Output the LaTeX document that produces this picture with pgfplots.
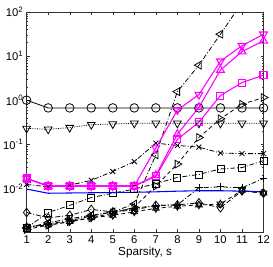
\documentclass[border=0pt]{standalone}
\usepackage{fontspec}
\setmainfont{Liberation Sans}
\usepackage{pgfplots}
\pgfplotsset{compat=1.18}
\definecolor{mag}{RGB}{255,0,255}
\begin{document}
\begin{tikzpicture}
\begin{axis}[
  scale only axis, width=243pt, height=226pt,
  xmin=1, xmax=12, ymode=log, ymin=1.05e-3, ymax=100,
  xtick={1,...,12},
  ytick={1e-2,1e-1,1,10,100},
  yticklabels={10\textsuperscript{-2},10\textsuperscript{-1},10\textsuperscript{0},10\textsuperscript{1},10\textsuperscript{2}},
  /pgf/number format/assume math mode=true,
  tick label style={font=\fontsize{11.5}{12}\selectfont},
  xlabel={Sparsity, s},
  xlabel style={font=\fontsize{12}{13}\selectfont, yshift=3pt},
  tick align=inside, axis line style={black!80},
  major tick length=3pt, minor tick length=1.8pt,
  every tick/.style={black!80},
  clip=true,
  every axis plot/.append style={line width=0.8pt, mark size=4.6pt},
]
% black circles solid
\addplot[black, mark=o, mark size=4.4pt] coordinates {(1,1.0)(2,0.67)(3,0.67)(4,0.67)(5,0.67)(6,0.67)(7,0.67)(8,0.67)(9,0.67)(10,0.67)(11,0.67)(12,0.67)};
% black dotted triangle down
\addplot[black, densely dotted, mark=triangle, mark options={solid, rotate=180}] coordinates {(1,0.23)(2,0.22)(3,0.24)(4,0.28)(5,0.29)(6,0.30)(7,0.30)(8,0.30)(9,0.30)(10,0.30)(11,0.30)(12,0.30)};
% black dash-dot triangle left
\addplot[black, dash pattern=on 5pt off 2pt on 1pt off 2pt, mark=triangle, mark options={solid, rotate=90}] coordinates {(1,0.0013)(2,0.0017)(3,0.0021)(4,0.0025)(5,0.0030)(6,0.0045)(7,0.058)(8,1.56)(9,6.2)(10,31)(11,160)(12,800)};
% black dashed triangle right
\addplot[black, dash pattern=on 4pt off 3pt, mark=triangle, mark options={solid, rotate=270}] coordinates {(1,0.0012)(2,0.0015)(3,0.0018)(4,0.0022)(5,0.0028)(6,0.0038)(7,0.0115)(8,0.036)(9,0.144)(10,0.38)(11,0.81)(12,1.15)};
% black x dash-dot
\addplot[black, dash pattern=on 5pt off 2pt on 1pt off 2pt, mark=x, mark size=3.6pt, mark options={solid}] coordinates {(1,0.0125)(2,0.011)(3,0.012)(4,0.0155)(5,0.0245)(6,0.041)(7,0.107)(8,0.095)(9,0.087)(10,0.064)(11,0.062)(12,0.062)};
% black squares dash-dot
\addplot[black, dash pattern=on 5pt off 2pt on 1pt off 2pt, mark=square, mark size=3.6pt, mark options={solid}] coordinates {(1,0.0013)(2,0.0029)(3,0.0042)(4,0.0063)(5,0.0079)(6,0.0098)(7,0.013)(8,0.018)(9,0.021)(10,0.028)(11,0.030)(12,0.043)};
% black plus dash-dot
\addplot[black, dash pattern=on 5pt off 2pt on 1pt off 2pt, mark=+, mark size=4pt, mark options={solid}] coordinates {(1,0.0013)(2,0.0016)(3,0.0019)(4,0.0024)(5,0.0030)(6,0.0036)(7,0.0042)(8,0.0043)(9,0.0105)(10,0.011)(11,0.0105)(12,0.017)};
% black diamonds dash-dot
\addplot[black, dash pattern=on 5pt off 2pt on 1pt off 2pt, mark=diamond, mark size=4.4pt, mark options={solid}] coordinates {(1,0.0029)(2,0.0022)(3,0.0025)(4,0.0034)(5,0.0030)(6,0.0033)(7,0.0042)(8,0.0043)(9,0.0048)(10,0.0037)(11,0.0089)(12,0.0079)};
% black hexagram dashed
\addplot[black, dash pattern=on 4pt off 3pt, mark=triangle, mark size=4pt, mark options={solid}] coordinates {(1,0.0014)(2,0.0015)(3,0.0018)(4,0.0022)(5,0.0025)(6,0.0030)(7,0.0036)(8,0.0040)(9,0.0043)(10,0.0045)(11,0.0092)(12,0.0080)};
\addplot[black, only marks, mark=triangle, mark size=4pt, mark options={solid, rotate=180}] coordinates {(1,0.0014)(2,0.0015)(3,0.0018)(4,0.0022)(5,0.0025)(6,0.0030)(7,0.0036)(8,0.0040)(9,0.0043)(10,0.0045)(11,0.0092)(12,0.0080)};
% blue solid
\addplot[blue, line width=1.1pt] coordinates {(1,0.0098)(2,0.0079)(3,0.0080)(4,0.0081)(5,0.0082)(6,0.0083)(7,0.0085)(8,0.0088)(9,0.0090)(10,0.0090)(11,0.0088)(12,0.0085)};
% magenta squares
\addplot[mag, line width=1.1pt, mark=square, mark size=3.6pt] coordinates {(1,0.017)(2,0.0115)(3,0.0115)(4,0.0115)(5,0.0115)(6,0.0115)(7,0.019)(8,0.13)(9,0.32)(10,1.27)(11,2.5)(12,3.7)};
% magenta triangle up
\addplot[mag, line width=1.1pt, mark=triangle] coordinates {(1,0.017)(2,0.0115)(3,0.0115)(4,0.0115)(5,0.0115)(6,0.0115)(7,0.02)(8,0.17)(9,0.69)(10,4.8)(11,12.5)(12,22)};
% magenta triangle down
\addplot[mag, line width=1.1pt, mark=triangle, mark options={rotate=180}] coordinates {(1,0.017)(2,0.0115)(3,0.0115)(4,0.0115)(5,0.0115)(6,0.0115)(7,0.083)(8,0.6)(9,1.34)(10,7.6)(11,17)(12,31)};
\end{axis}
\path ([shift={(-22pt,-35pt)}]current axis.south west) rectangle ([shift={(7pt,12pt)}]current axis.north east);
\end{tikzpicture}
\end{document}
